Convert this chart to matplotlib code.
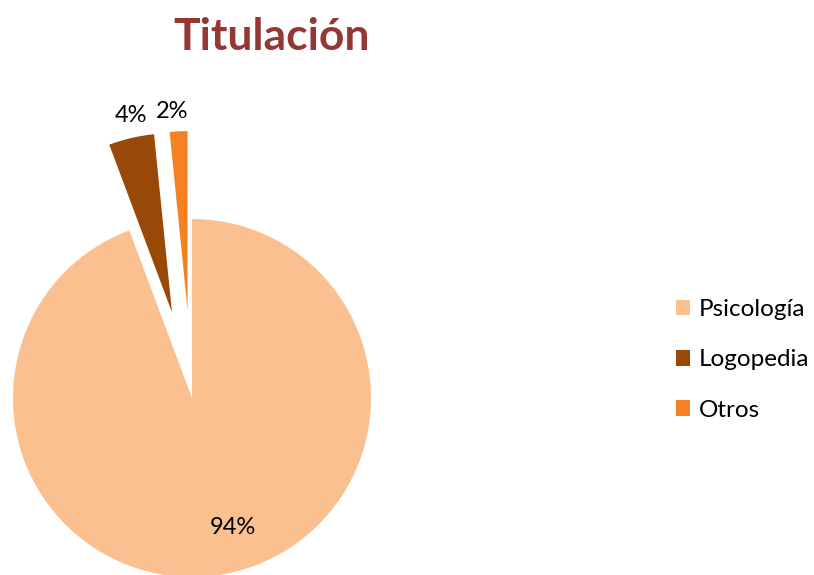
import matplotlib.pyplot as plt

# Datos
categorias = ['Psicología', 'Logopedia', 'Otros']
valores = [94.3, 4.1, 1.6]
colores = ['#FAC090', '#984807', '#F58220']
separacion = [0, 88, 88]  # en unidades de datos (px)

plt.rcParams['font.family'] = ['Lato', 'DejaVu Sans']

fig = plt.figure(figsize=(8.14, 5.75), dpi=100)
ax = fig.add_axes([0, 0, 1, 1])

wedges, textos, pcts = ax.pie(valores, colors=colores, explode=separacion,
                              startangle=90, counterclock=False,
                              center=(192, 177), radius=179, frame=False,
                              autopct='%1.0f%%', pctdistance=0.78,
                              textprops={'fontsize': 17, 'color': '#000000'})

# etiquetas pequeñas fuera de la porción
pcts[0].set_position((233, 47))
pcts[1].set_position((131, 460))
pcts[2].set_position((172, 463))

ax.set_xlim(0, 814)
ax.set_ylim(0, 575)
ax.axis('off')

fig.text(0.334, 0.935, 'Titulación', fontsize=32, fontweight='bold',
         color='#953735', ha='center', va='center')

ax.legend(wedges, categorias, loc='center left', bbox_to_anchor=(0.803, 0.374),
          frameon=False, fontsize=17.5, handlelength=0.6, handleheight=0.6,
          handletextpad=0.35, labelspacing=1.2)

plt.savefig('out.png', dpi=100)
